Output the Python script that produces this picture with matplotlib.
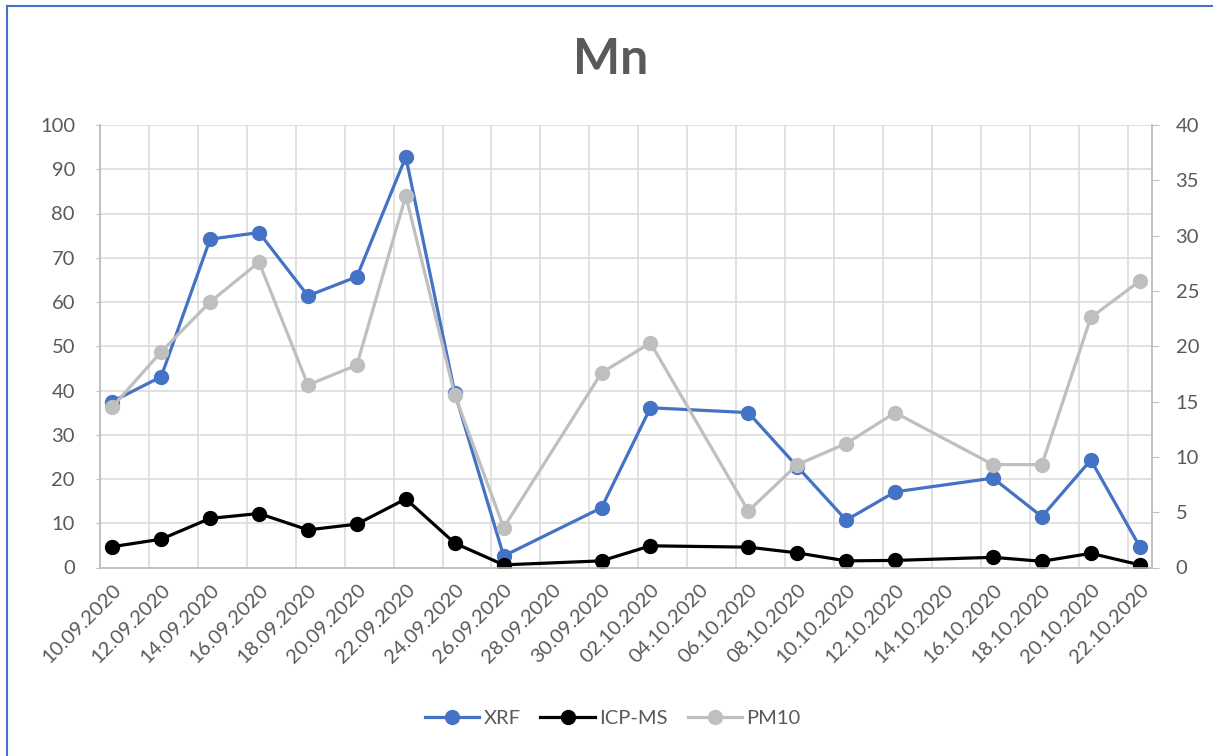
import numpy as np
import matplotlib.pyplot as plt
from matplotlib.lines import Line2D
from matplotlib.transforms import ScaledTranslation
import datetime as dt

plt.rcParams['font.family'] = ['Lato', 'DejaVu Sans']

# measurement dates and values
dates = ['10.09.2020', '12.09.2020', '14.09.2020', '16.09.2020', '18.09.2020',
         '20.09.2020', '22.09.2020', '24.09.2020', '26.09.2020', '30.09.2020',
         '02.10.2020', '06.10.2020', '08.10.2020', '10.10.2020', '12.10.2020',
         '16.10.2020', '18.10.2020', '20.10.2020', '22.10.2020']
xrf = [37.5, 43.1, 74.2, 75.7, 61.4, 65.7, 92.8, 39.5, 2.6, 13.5,
       36.1, 35.0, 22.8, 10.7, 17.1, 20.2, 11.5, 24.3, 4.7]
icpms = [4.7, 6.4, 11.1, 12.2, 8.5, 9.8, 15.5, 5.5, 0.6, 1.5,
         4.9, 4.6, 3.3, 1.5, 1.6, 2.3, 1.4, 3.2, 0.6]
pm10 = [14.5, 19.5, 24.0, 27.6, 16.5, 18.3, 33.6, 15.6, 3.6, 17.6,
        20.3, 5.1, 9.3, 11.2, 14.0, 9.3, 9.3, 22.6, 25.9]

start = dt.datetime.strptime(dates[0], '%d.%m.%Y')
days = np.array([(dt.datetime.strptime(d, '%d.%m.%Y') - start).days for d in dates])
ndays = days[-1]

blue = '#4472C4'
grey = '#BFBFBF'
txt = '#595959'
fs = 14.5

fig = plt.figure(figsize=(12.13, 7.56), dpi=100)
ax = fig.add_axes([100/1213, 1-567.5/756, 1052/1213, 442.5/756])
ax2 = ax.twinx()

ax.plot(days, xrf, '-o', color=blue, lw=2.3, ms=10, label='XRF', zorder=3)
ax.plot(days, icpms, '-o', color='black', lw=2.3, ms=10, label='ICP-MS', zorder=3)
ax2.plot(days, pm10, '-o', color=grey, lw=2.3, ms=10, label='PM10', zorder=3)

ax.set_xlim(-0.5, ndays + 0.5)
ax.set_ylim(0, 100)
ax2.set_ylim(0, 40)
ax.set_yticks(np.arange(0, 101, 10))
ax2.set_yticks(np.arange(0, 41, 5))

# vertical grid between day slots, every 2 days
for g in np.arange(-0.5, ndays + 0.5, 2):
    ax.axvline(g, color='#D9D9D9', lw=1.1, zorder=0)
for g in np.arange(10, 101, 10):
    ax.axhline(g, color='#D9D9D9', lw=1.1, zorder=0)

ticks = np.arange(0, ndays + 1, 2)
ax.set_xticks(ticks)
ax.set_xticklabels([(start + dt.timedelta(days=int(t))).strftime('%d.%m.%Y') for t in ticks],
                   rotation=45, ha='right', rotation_mode='anchor', fontsize=fs, color=txt)
for lab in ax.get_xticklabels():
    lab.set_transform(lab.get_transform() + ScaledTranslation(-5/72, 0, fig.dpi_scale_trans))
ax.tick_params(axis='x', length=0, pad=10)
ax.tick_params(axis='y', length=3, color=grey, labelsize=fs, labelcolor=txt, pad=15)
ax2.tick_params(axis='y', length=5, color=grey, labelsize=fs, labelcolor=txt, pad=12)

for a in (ax, ax2):
    a.spines['top'].set_visible(False)
    for s in ('left', 'right', 'bottom'):
        a.spines[s].set_color(grey)
        a.spines[s].set_linewidth(1.1)

fig.text(0.503, 1-60/756, 'Mn', ha='center', va='center', fontsize=36,
         fontweight='bold', color=txt)

h1, l1 = ax.get_legend_handles_labels()
h2, l2 = ax2.get_legend_handles_labels()
fig.legend(h1 + h2, l1 + l2, loc='center', bbox_to_anchor=(0.505, 1-718/756), ncol=3,
           frameon=False, fontsize=fs, labelcolor=txt, handlelength=2.7,
           columnspacing=1.0, handletextpad=0.2)

# chart border (top and left)
fig.add_artist(Line2D([7/1213, 1], [1-6/756, 1-6/756], color=blue, lw=1.5))
fig.add_artist(Line2D([7/1213, 7/1213], [0, 1-6/756], color=blue, lw=1.5))

fig.savefig('out.png', dpi=100)
